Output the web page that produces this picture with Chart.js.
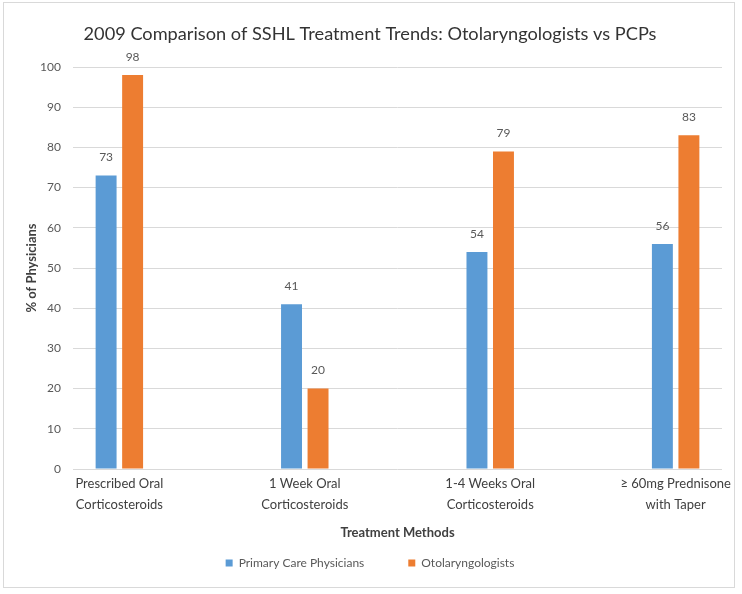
<!DOCTYPE html>
<html><head><meta charset="utf-8">
<script src="https://cdn.jsdelivr.net/npm/chart.js@4"></script>
<style>
html,body{margin:0;padding:0;background:#fff;}
#wrap{position:relative;width:742px;height:594px;}
#frame{position:absolute;left:3px;top:2px;width:730px;height:584px;border:1px solid #D9D9D9;}
canvas{position:absolute;left:0;top:0;}
</style></head><body>
<div id="wrap"><div id="frame"></div><canvas id="c" width="742" height="594"></canvas></div>
<script>
const titleText = '2009 Comparison of SSHL Treatment Trends: Otolaryngologists vs PCPs';
const categories = [
  ['Prescribed Oral', 'Corticosteroids'],
  ['1 Week Oral', 'Corticosteroids'],
  ['1-4 Weeks Oral', 'Corticosteroids'],
  ['\u2265 60mg Prednisone', 'with Taper']
];
const seriesNames = ['Primary Care Physicians', 'Otolaryngologists'];
const pcpValues = [73, 41, 54, 56];
const otoValues = [98, 20, 79, 83];
const yTickValues = [0, 10, 20, 30, 40, 50, 60, 70, 80, 90, 100];
const xTitle = 'Treatment Methods';
const yTitle = '% of Physicians';

const FONT = 'Lato';

const valueLabels = {
  id: 'valueLabels',
  afterDatasetsDraw(chart) {
    const ctx = chart.ctx;
    ctx.save();
    ctx.font = '12px ' + FONT;
    ctx.fillStyle = '#595959';
    ctx.textAlign = 'center';
    ctx.textBaseline = 'middle';
    chart.data.datasets.forEach((ds, di) => {
      const meta = chart.getDatasetMeta(di);
      meta.data.forEach((el, i) => {
        ctx.fillText(String(ds.data[i].y), el.x, el.y - 18);
      });
    });
    ctx.restore();
  }
};

const toPoints = arr => arr.map((v, i) => ({ x: i, y: v }));

new Chart(document.getElementById('c'), {
  type: 'bar',
  data: {
    datasets: [
      { label: seriesNames[0], data: toPoints(pcpValues), backgroundColor: '#5B9BD5', borderWidth: 0,
        categoryPercentage: 0.286, barPercentage: 0.79 },
      { label: seriesNames[1], data: toPoints(otoValues), backgroundColor: '#ED7D31', borderWidth: 0,
        categoryPercentage: 0.286, barPercentage: 0.79 }
    ]
  },
  options: {
    responsive: false,
    animation: false,
    devicePixelRatio: 1,
    layout: { padding: { left: 18, right: 20, top: 0, bottom: 15 } },
    plugins: {
      title: {
        display: true, text: titleText, color: '#333333',
        font: { family: FONT, size: 18.2, weight: 'normal', lineHeight: 1.2 },
        padding: { top: 23, bottom: 22.16 }
      },
      legend: {
        position: 'bottom',
        labels: {
          font: { family: FONT, size: 12 }, color: '#595959',
          boxWidth: 7, boxHeight: 7, padding: 44
        }
      },
      tooltip: { enabled: false }
    },
    scales: {
      x: {
        type: 'linear', min: -0.25, max: 3.25, offset: false,
        grid: { display: false, drawTicks: false },
        border: { display: false },
        afterBuildTicks: s => { s.ticks = categories.map((_, i) => ({ value: i })); },
        afterFit: s => { s.height = 44; },
        ticks: {
          autoSkip: false, maxRotation: 0, minRotation: 0, padding: 4.6,
          color: '#404040', font: { family: FONT, size: 13, lineHeight: 1.6 },
          callback: v => categories[v]
        },
        title: {
          display: true, text: xTitle, color: '#404040',
          font: { family: FONT, size: 13, weight: 'bold', lineHeight: 1.2 },
          padding: { top: 0, bottom: -27.8 }
        }
      },
      y: {
        min: 0, max: 100,
        afterBuildTicks: s => { s.ticks = yTickValues.map(v => ({ value: v })); },
        afterFit: s => { s.width = 55; },
        grid: { color: '#D9D9D9', lineWidth: 1, drawTicks: false },
        border: { display: false },
        ticks: { padding: 12, color: '#595959', font: { family: FONT, size: 12 } },
        title: {
          display: true, text: yTitle, color: '#404040',
          font: { family: FONT, size: 13, weight: 'bold', lineHeight: 1.2 },
          padding: { top: 6.2, bottom: 0 }
        }
      }
    }
  },
  plugins: [valueLabels]
});
</script>
</body></html>
